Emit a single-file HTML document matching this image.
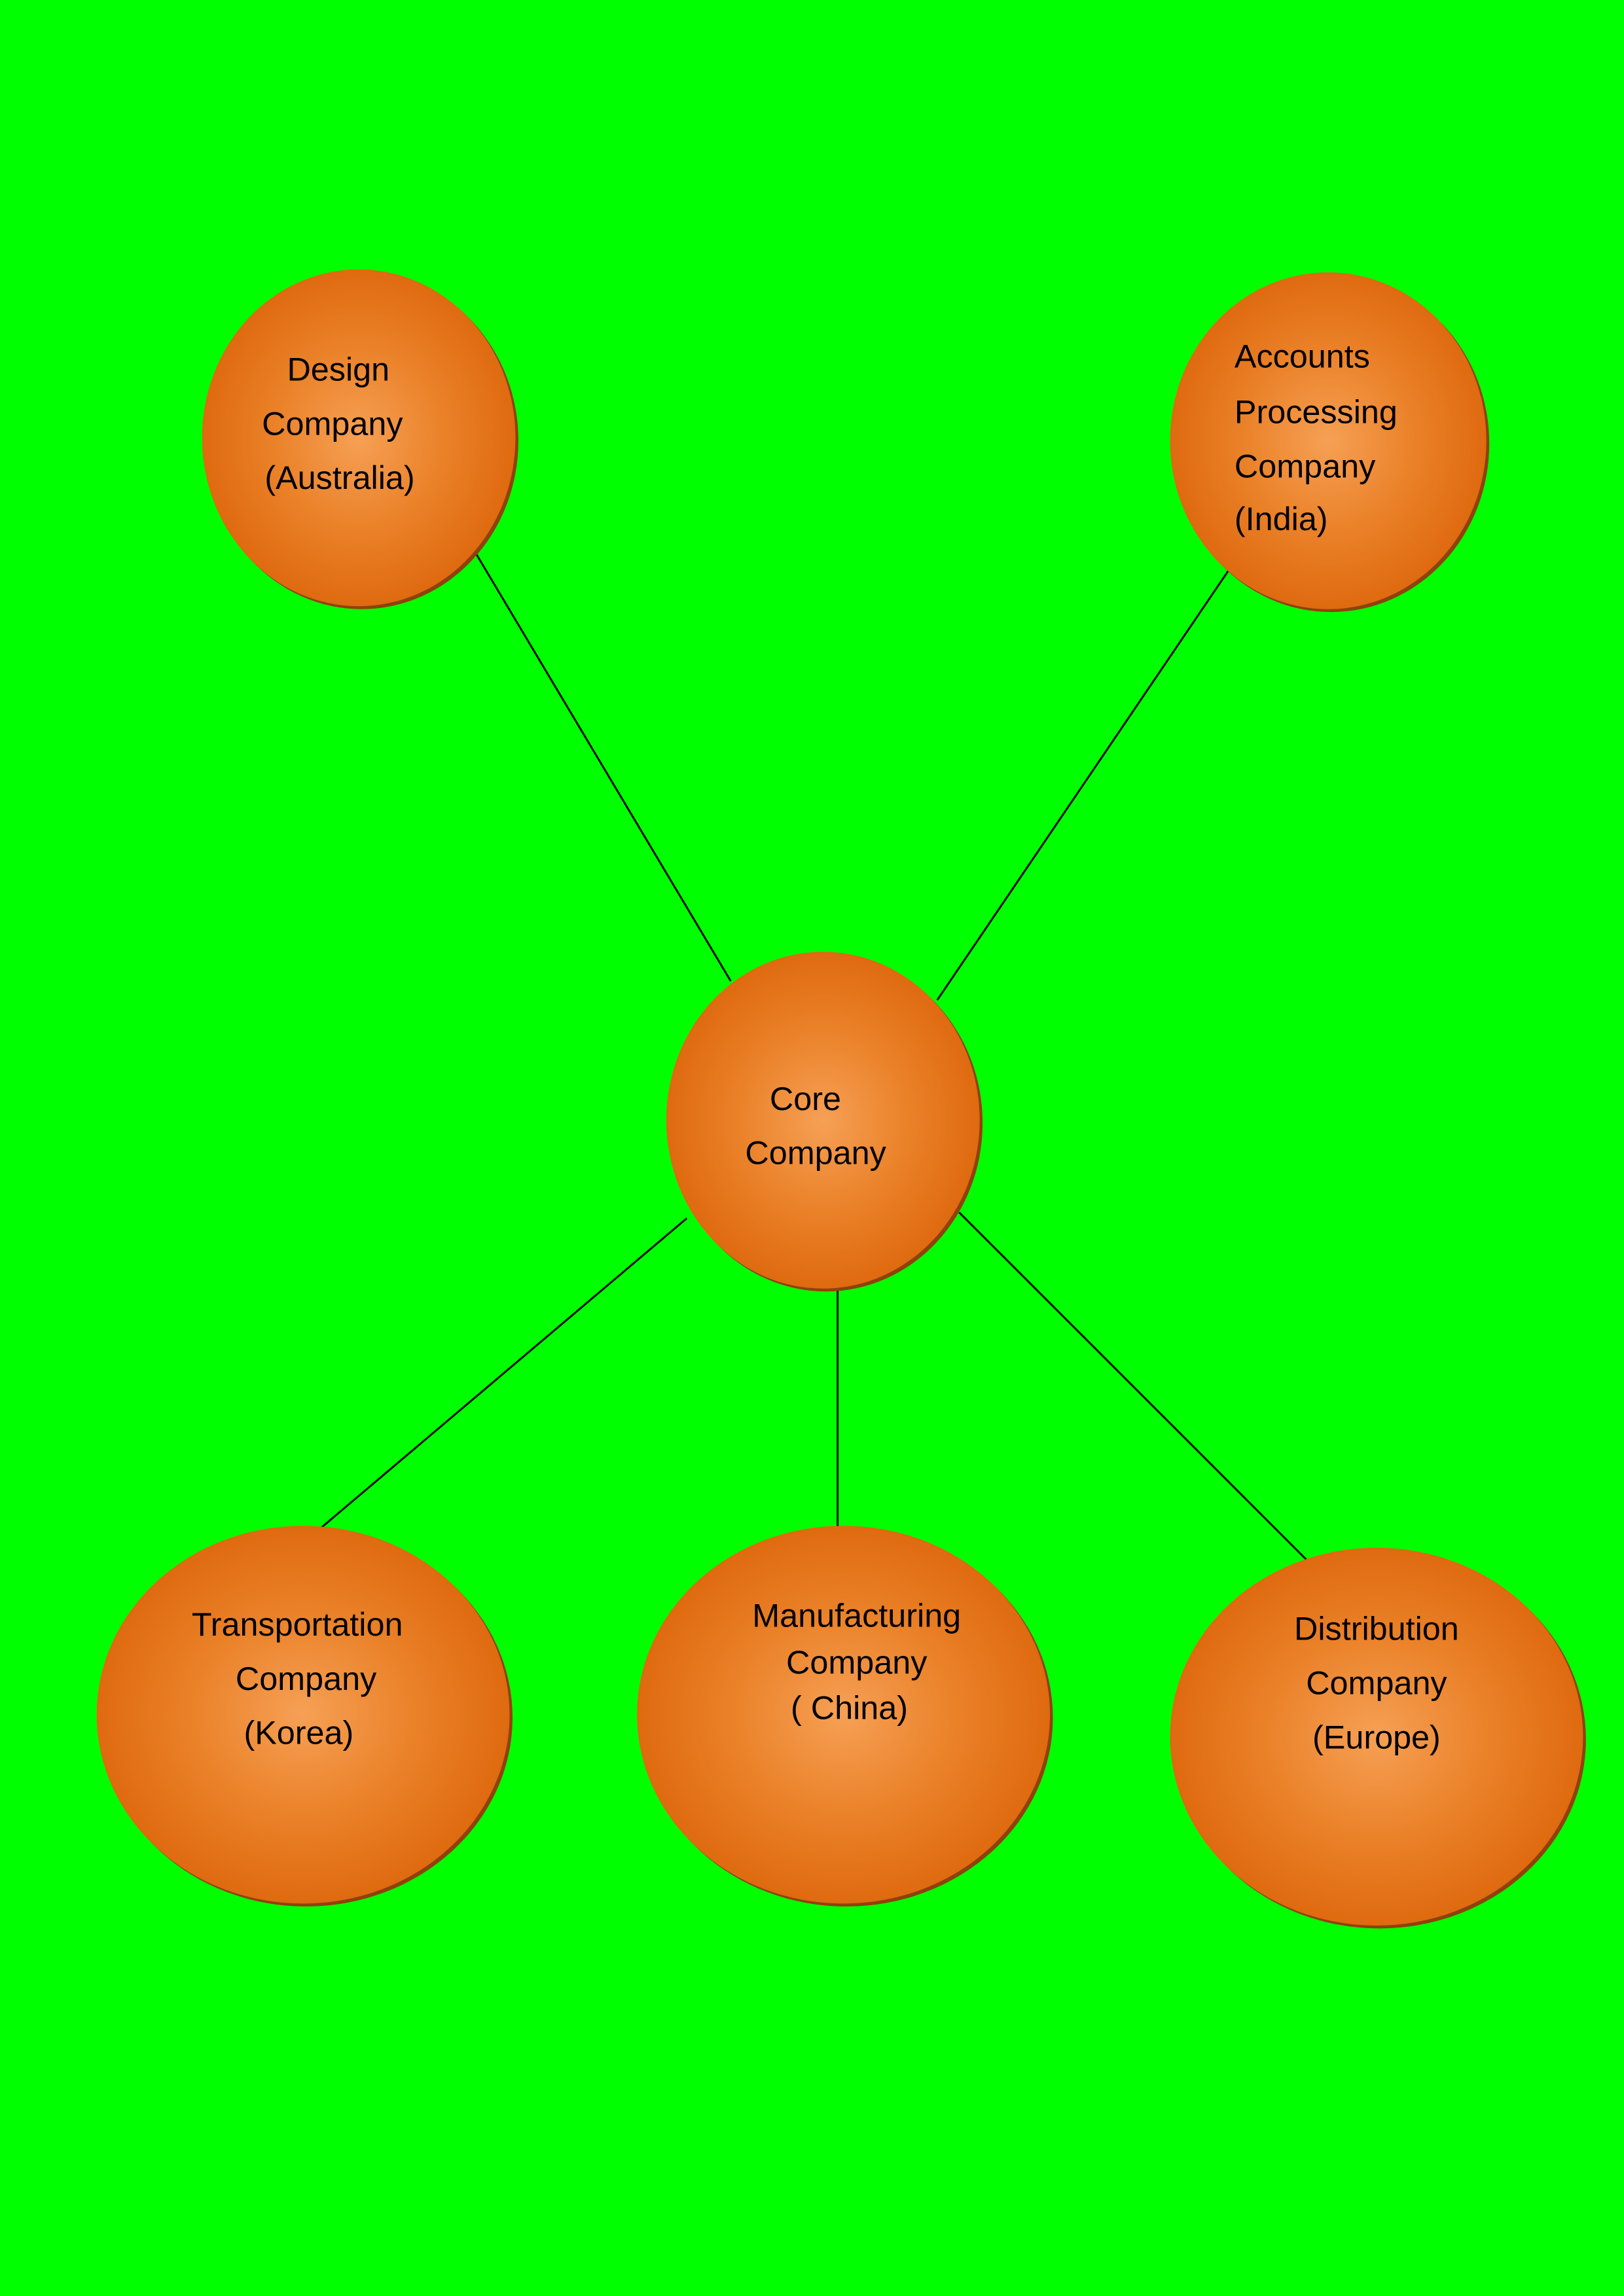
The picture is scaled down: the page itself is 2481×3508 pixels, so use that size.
<!DOCTYPE html>
<html>
<head>
<meta charset="utf-8">
<style>
html,body{margin:0;padding:0;background:#00ff00;}
svg{display:block;}
text{font-family:"Liberation Sans",sans-serif;font-size:22.5px;fill:#000;}
</style>
</head>
<body>
<svg width="2481" height="3508" viewBox="0 0 1109 1568" preserveAspectRatio="none" xmlns="http://www.w3.org/2000/svg">
<defs>
<radialGradient id="g" cx="50%" cy="50%" r="50%">
<stop offset="0%" stop-color="#f6a055"/>
<stop offset="55%" stop-color="#ea8128"/>
<stop offset="100%" stop-color="#df6a10"/>
</radialGradient>
</defs>
<rect width="1109" height="1568" fill="#00ff00"/>
<g stroke="#000" stroke-width="1.3">
<line x1="325" y1="378" x2="499" y2="670"/>
<line x1="840" y1="388" x2="640" y2="683"/>
<line x1="469" y1="832" x2="215" y2="1047"/>
<line x1="572" y1="875" x2="572" y2="1048"/>
<line x1="655" y1="828" x2="897" y2="1070"/>
</g>
<g>
<ellipse cx="247" cy="301" rx="107" ry="115" fill="#8e420c"/>
<ellipse cx="245" cy="299" rx="107" ry="115" fill="url(#g)"/>
<ellipse cx="909" cy="303" rx="108" ry="115" fill="#8e420c"/>
<ellipse cx="907" cy="301" rx="108" ry="115" fill="url(#g)"/>
<ellipse cx="564" cy="767" rx="107" ry="115" fill="#8e420c"/>
<ellipse cx="562" cy="765" rx="107" ry="115" fill="url(#g)"/>
<ellipse cx="209" cy="1173" rx="141" ry="129" fill="#8e420c"/>
<ellipse cx="207" cy="1171" rx="141" ry="129" fill="url(#g)"/>
<ellipse cx="578" cy="1173" rx="141" ry="129" fill="#8e420c"/>
<ellipse cx="576" cy="1171" rx="141" ry="129" fill="url(#g)"/>
<ellipse cx="942" cy="1188" rx="141" ry="129" fill="#8e420c"/>
<ellipse cx="940" cy="1186" rx="141" ry="129" fill="url(#g)"/>
</g>
<g text-anchor="middle">
<text x="231" y="260">Design</text>
<text x="227" y="297">Company</text>
<text x="232" y="334">(Australia)</text>
<text x="550" y="758">Core</text>
<text x="557" y="795">Company</text>
<text x="203" y="1117">Transportation</text>
<text x="209" y="1154">Company</text>
<text x="204" y="1191">(Korea)</text>
<text x="585" y="1111">Manufacturing</text>
<text x="585" y="1143">Company</text>
<text x="580" y="1174">( China)</text>
<text x="940" y="1120">Distribution</text>
<text x="940" y="1157">Company</text>
<text x="940" y="1194">(Europe)</text>
</g>
<g>
<text x="843" y="251">Accounts</text>
<text x="843" y="289">Processing</text>
<text x="843" y="326">Company</text>
<text x="843" y="362">(India)</text>
</g>
</svg>
</body>
</html>
